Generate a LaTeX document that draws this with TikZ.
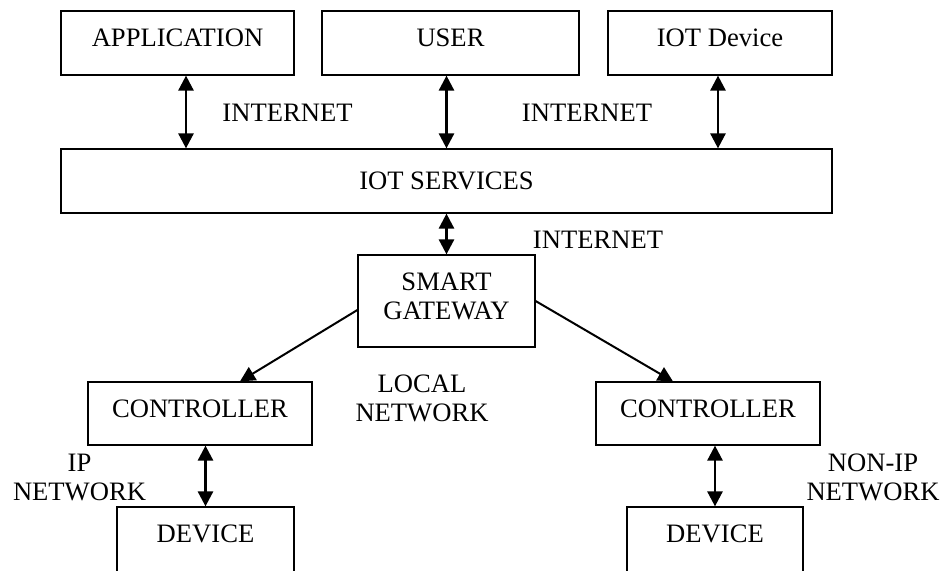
\documentclass[tikz,border=0pt]{standalone}
\usepackage{fontspec}
\setmainfont{Liberation Serif}
\usetikzlibrary{arrows.meta}
\tikzstyle{box} = [draw,line width=0.6pt,inner sep=0pt,text height=8.8pt,text depth=5pt]
\tikzstyle{link} = [draw,line width=1.3pt,<->]
\tikzstyle{feed} = [draw,line width=1pt,->]
\tikzstyle{lbl} = [inner sep=0pt,align=center]

\begin{document}
\begin{tikzpicture}[x=0.5pt,y=-0.5pt,font=\fontsize{13.3}{14.5}\selectfont,
  >={Triangle[length=7.5pt,width=7.5pt]}]
    \useasboundingbox (0,0) rectangle (944,571);

    % top row
    \node[box,minimum width=116.5pt,minimum height=32pt] (app) at (177.5,43) {APPLICATION};
    \node[box,minimum width=128.5pt,minimum height=32pt] (user) at (450.5,43) {USER};
    \node[box,minimum width=112pt,minimum height=32pt] (iotdev) at (720,43) {IOT Device};
    \node[box,minimum width=385.5pt,minimum height=32pt,text depth=0pt] (svc) at (446.5,181) {IOT SERVICES};

    % gateway
    \node[draw,line width=0.6pt,minimum width=88.5pt,minimum height=46pt] (gw) at (446.5,301) {};
    \node[lbl] (gwtext) at ([yshift=2.5pt]gw.center) {SMART\\GATEWAY};

    % controllers and devices (devices run past the lower edge)
    \node[box,minimum width=112pt,minimum height=31.5pt] (ctrlL) at (200,413.5) {CONTROLLER};
    \node[box,minimum width=112pt,minimum height=31.5pt] (ctrlR) at (708,413.5) {CONTROLLER};
    \node[box,minimum width=88.5pt,minimum height=34pt,text depth=7pt] (devL) at (205.5,541) {DEVICE};
    \node[box,minimum width=88pt,minimum height=34pt,text depth=7pt] (devR) at (715,541) {DEVICE};

    % labels
    \node[lbl] (net1) at (287.5,113) {INTERNET};
    \node[lbl] (net2) at (587,113) {INTERNET};
    \node[lbl] (net3) at (598,240) {INTERNET};
    \node[lbl] (local) at (422,398.5) {LOCAL\\NETWORK};
    \node[lbl] (ipnet) at (79.5,477.5) {IP\\NETWORK};
    \node[lbl] (nonip) at (873,477.5) {NON-IP\\NETWORK};

    \draw[link] ([xshift=4.25pt]app.south) -- ([xshift=4.25pt]app.south |- svc.north);
    \draw[link] (user.south -| gw.north) -- (gw.north |- svc.north);
    \draw[link] ([xshift=-1pt]iotdev.south) -- ([xshift=-1pt]iotdev.south |- svc.north);
    \draw[link] (gw.north |- svc.south) -- (gw.north);

    \draw[feed] ([yshift=-4.5pt]gw.west) -- ([xshift=20pt]ctrlL.north);
    \draw[feed] (gw.east) -- ([xshift=-17.5pt]ctrlR.north);

    \draw[link] (devL.north |- ctrlL.south) -- (devL.north);
    \draw[link] (devR.north |- ctrlR.south) -- (devR.north);

\end{tikzpicture}
\end{document}
